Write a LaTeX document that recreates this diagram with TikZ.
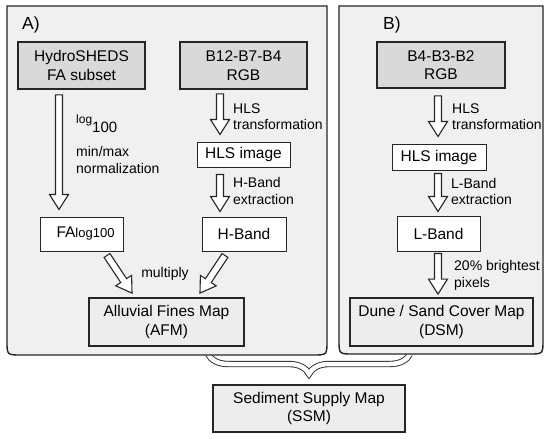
\documentclass[tikz,border=0pt]{standalone}
\usepackage{fontspec}
\setmainfont{Liberation Sans}
\usetikzlibrary{calc,decorations.pathreplacing}
\definecolor{panelfill}{gray}{0.94}
\definecolor{inputfill}{gray}{0.85}
\definecolor{outfill}{gray}{0.93}
\definecolor{edge}{gray}{0.15}
\newcommand\boxfont{\fontsize{15.5}{18.5}\selectfont}
\newcommand\labfont{\fontsize{14}{16.5}\selectfont}
\tikzset{
 panel/.style={draw=edge, line width=1.4pt, fill=panelfill},
 inbox/.style={draw=edge, line width=1.8pt, fill=inputfill, inner sep=0pt, align=center, font=\boxfont},
 whitebox/.style={draw=edge, line width=1pt, fill=white, inner sep=0pt, align=center, font=\boxfont},
 outbox/.style={draw=edge, line width=1.8pt, fill=outfill, inner sep=0pt, align=center, font=\boxfont},
 lab/.style={inner sep=0pt, align=left, anchor=west, font=\labfont},
 blk/.style={draw=edge, line width=1.1pt, fill=white, line join=miter},
 bracestyle/.style={draw=edge, line width=0.9pt, double=white, double distance=4.5pt, decorate, decoration={brace, amplitude=20pt}},
}
\newcommand\blockarrow[2]{%
 \coordinate (ba-s) at (#1);
 \coordinate (ba-e) at (#2);
 \coordinate (ba-h) at ($(ba-e)!15pt!(ba-s)$);
 \draw[blk] ($(ba-s)!3.5pt!90:(ba-e)$) -- ($(ba-h)!3.5pt!90:(ba-e)$) -- ($(ba-h)!9.5pt!90:(ba-e)$) -- (ba-e) -- ($(ba-h)!9.5pt!-90:(ba-e)$) -- ($(ba-h)!3.5pt!-90:(ba-e)$) -- ($(ba-s)!3.5pt!-90:(ba-e)$) -- cycle;}
\begin{document}
\begin{tikzpicture}[x=1pt,y=-1pt]
\useasboundingbox[fill=white] (0,0) rectangle (550,439);

% brace (drawn first, panels cover its ends)
\draw[bracestyle] (410,354) -- (208,354);

% panels
\draw[panel] (7,6) -- (327,6) -- (327,341) .. controls (327,355) .. (313,355) -- (21,355) .. controls (7,355) .. (7,341) -- cycle;
\draw[panel] (339,6) -- (543,6) -- (543,340) .. controls (543,354) .. (529,354) -- (353,354) .. controls (339,354) .. (339,340) -- cycle;

\node[anchor=west, inner sep=0pt, font=\fontsize{17.5}{20}\selectfont] (lA) at (22,25) {A)};
\node[anchor=west, inner sep=0pt, font=\fontsize{17.5}{20}\selectfont] (lB) at (383,25) {B)};

% panel A
\node[inbox, minimum width=127pt, minimum height=47pt] (hydro) at (81.5,65.5) {HydroSHEDS\\FA subset};
\node[inbox, minimum width=127pt, minimum height=47pt] (b12) at (243.5,65.5) {B12-B7-B4\\RGB};
\node[whitebox, minimum width=93pt, minimum height=25pt] (hlsA) at (243.5,154.5) {HLS image};
\node[whitebox, minimum width=83pt, minimum height=34pt] (fa) at (81.5,234) {\hspace*{8pt}FA{\fontsize{13}{15}\selectfont log100}};
\node[whitebox, minimum width=84pt, minimum height=34pt] (hband) at (244,234) {H-Band};
\node[outbox, minimum width=155pt, minimum height=48pt] (afm) at (166.5,322) {Alluvial Fines Map\\(AFM)};

\node[lab, anchor=base west] (tlog) at (76,123) {{\fontsize{12}{13}\selectfont log}\raisebox{-9pt}{\fontsize{15}{16}\selectfont 100}};
\node[lab] (tnorm) at (76,160) {min/max\\normalization};
\node[lab] (thlsA) at (233,116.5) {HLS\\transformation};
\node[lab] (thb) at (233,191) {H-Band\\extraction};
\node[lab, anchor=center] (tmul) at (165,274) {multiply};

\blockarrow{$(hydro.south)+(-22.5,5)$}{$(fa.north)+(-22.5,-7)$}
\blockarrow{$(b12.south)+(-23.5,4)$}{$(hlsA.north)+(-23.5,-7)$}
\blockarrow{$(hlsA.south)+(-23.5,7)$}{$(hband.north)+(-24,-5)$}
\blockarrow{$(fa.south)+(25.5,4)$}{$(afm.north)+(-34.5,-4)$}
\blockarrow{$(hband.south)+(-19,4)$}{$(afm.north)+(33.5,-4)$}

% panel B
\node[inbox, minimum width=128pt, minimum height=46pt] (b4) at (441,65) {B4-B3-B2\\RGB};
\node[whitebox, minimum width=94pt, minimum height=26pt] (hlsB) at (439,157) {HLS image};
\node[whitebox, minimum width=83pt, minimum height=35pt] (lband) at (438.5,233.5) {L-Band};
\node[outbox, minimum width=183pt, minimum height=48pt] (dsm) at (441.5,322) {Dune / Sand Cover Map\\(DSM)};

\node[lab] (thlsB) at (452,116.5) {HLS\\transformation};
\node[lab] (tlb) at (451,191.5) {L-Band\\extraction};
\node[lab] (tbr) at (454,275.5) {20\% brightest\\pixels};

\blockarrow{$(b4.south)+(-3,7)$}{$(hlsB.north)+(-1,-7)$}
\blockarrow{$(hlsB.south)+(-1,3)$}{$(lband.north)+(-0.5,-4)$}
\blockarrow{$(lband.south)+(-0.5,2)$}{$(dsm.north)+(-3.5,-3)$}

% SSM
\node[outbox, minimum width=192pt, minimum height=47pt] (ssm) at (309,408.5) {Sediment Supply Map\\(SSM)};
\end{tikzpicture}
\end{document}
